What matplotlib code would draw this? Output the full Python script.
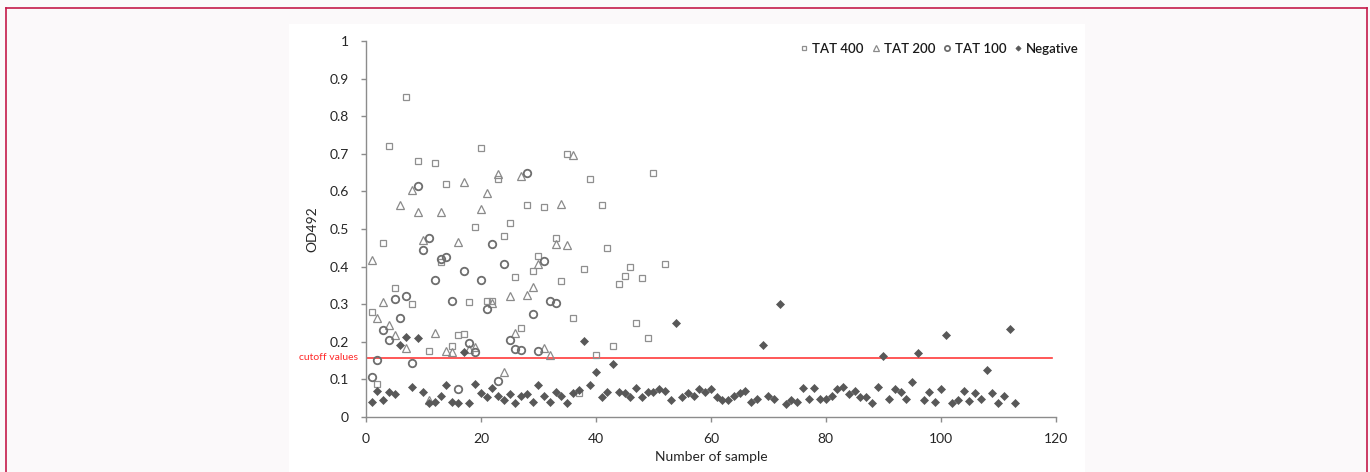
import matplotlib
matplotlib.use("Agg")
import matplotlib.pyplot as plt
from matplotlib.patches import Rectangle
from matplotlib.lines import Line2D
import numpy as np

plt.rcParams['font.family'] = ['Lato', 'DejaVu Sans']

# ---- data ----
tat400_x = [1, 2, 3, 4, 5, 7, 8, 9, 11, 12, 13, 14, 15, 16, 17, 18, 19, 20, 21, 22, 23, 24, 25, 26,
            27, 28, 29, 30, 31, 33, 34, 35, 36, 37, 38, 39, 40, 41, 42, 43, 44, 45, 46, 47, 48, 49, 50, 52]
tat400_y = [0.278, 0.088, 0.463, 0.720, 0.343, 0.850, 0.301, 0.680, 0.175, 0.675, 0.411, 0.620,
            0.188, 0.219, 0.221, 0.305, 0.505, 0.715, 0.308, 0.308, 0.632, 0.482, 0.516, 0.373,
            0.237, 0.563, 0.387, 0.428, 0.558, 0.476, 0.362, 0.700, 0.263, 0.063, 0.393, 0.632,
            0.166, 0.564, 0.449, 0.190, 0.355, 0.376, 0.399, 0.249, 0.371, 0.211, 0.648, 0.408]

tat200_x = list(range(1, 37))
tat200_y = [0.417, 0.262, 0.306, 0.245, 0.219, 0.563, 0.183, 0.605, 0.545, 0.470, 0.045, 0.224,
            0.545, 0.176, 0.174, 0.465, 0.625, 0.180, 0.187, 0.553, 0.597, 0.303, 0.645, 0.121,
            0.321, 0.224, 0.640, 0.325, 0.345, 0.406, 0.183, 0.166, 0.461, 0.566, 0.457, 0.697]

tat100_x = list(range(1, 34))
tat100_y = [0.107, 0.151, 0.231, 0.204, 0.315, 0.264, 0.323, 0.143, 0.615, 0.445, 0.477, 0.364,
            0.420, 0.425, 0.308, 0.075, 0.387, 0.196, 0.174, 0.364, 0.287, 0.460, 0.095, 0.408,
            0.204, 0.181, 0.178, 0.648, 0.275, 0.175, 0.416, 0.308, 0.302]

neg_x = list(range(1, 114))
neg_y = [0.041, 0.069, 0.045, 0.067, 0.060, 0.192, 0.214, 0.081, 0.211, 0.067,
         0.036, 0.041, 0.057, 0.084, 0.041, 0.037, 0.172, 0.037, 0.087, 0.065,
         0.052, 0.076, 0.057, 0.044, 0.060, 0.037, 0.057, 0.060, 0.041, 0.084,
         0.057, 0.041, 0.066, 0.057, 0.037, 0.063, 0.072, 0.202, 0.086, 0.119,
         0.054, 0.066, 0.142, 0.066, 0.063, 0.052, 0.077, 0.054, 0.066, 0.066,
         0.075, 0.069, 0.045, 0.249, 0.054, 0.063, 0.057, 0.075, 0.066, 0.075,
         0.054, 0.045, 0.045, 0.057, 0.063, 0.069, 0.039, 0.048, 0.192, 0.057,
         0.048, 0.301, 0.034, 0.045, 0.039, 0.078, 0.048, 0.078, 0.048, 0.048,
         0.057, 0.075, 0.081, 0.061, 0.069, 0.054, 0.054, 0.036, 0.081, 0.161,
         0.048, 0.075, 0.066, 0.048, 0.092, 0.170, 0.045, 0.066, 0.039, 0.075,
         0.219, 0.036, 0.045, 0.069, 0.043, 0.063, 0.048, 0.125, 0.063, 0.036,
         0.057, 0.234, 0.036]

cutoff = 0.158
series_labels = ["TAT 400", "TAT 200", "TAT 100", "Negative"]
x_ticks = [0, 20, 40, 60, 80, 100, 120]
y_ticks = [0, 0.1, 0.2, 0.3, 0.4, 0.5, 0.6, 0.7, 0.8, 0.9, 1]
y_ticklabels = ["0", "0.1", "0.2", "0.3", "0.4", "0.5", "0.6", "0.7", "0.8", "0.9", "1"]

# ---- figure ----
W, H = 1370, 472
fig = plt.figure(figsize=(W / 100, H / 100), dpi=100)
fig.patch.set_facecolor('#fbf9fa')

# white panel
fig.patches.append(Rectangle((289 / W, 0), (1085 - 289) / W, (H - 24) / H,
                             transform=fig.transFigure, facecolor='white',
                             edgecolor='none', zorder=-5))
# border lines
bc = '#c41a4a'
fig.add_artist(Line2D([6 / W, 1367 / W], [(H - 8) / H, (H - 8) / H], color=bc, lw=1.2,
                      transform=fig.transFigure, zorder=-4))
fig.add_artist(Line2D([6 / W, 6 / W], [0, (H - 8) / H], color=bc, lw=1.2,
                      transform=fig.transFigure, zorder=-4))
fig.add_artist(Line2D([1367 / W, 1367 / W], [0, (H - 8) / H], color=bc, lw=1.2,
                      transform=fig.transFigure, zorder=-4))

ax = fig.add_axes([366 / W, 55 / H, (1055.7 - 366) / W, (417 - 41) / H])
ax.set_facecolor('none')
ax.set_zorder(2)

ax.plot(tat400_x, tat400_y, linestyle='none', marker='s', markersize=4.2,
        markerfacecolor='none', markeredgecolor='#8f8f8f', markeredgewidth=0.9,
        label=series_labels[0])
ax.plot(tat200_x, tat200_y, linestyle='none', marker='^', markersize=5.2,
        markerfacecolor='none', markeredgecolor='#8a8a8a', markeredgewidth=0.9,
        label=series_labels[1])
ax.plot(tat100_x, tat100_y, linestyle='none', marker='o', markersize=5.4,
        markerfacecolor='none', markeredgecolor='#6e6e6e', markeredgewidth=1.3,
        label=series_labels[2])
ax.plot(neg_x, neg_y, linestyle='none', marker='D', markersize=3.8,
        markerfacecolor='#585858', markeredgecolor='#585858', markeredgewidth=0.5,
        label=series_labels[3])

ax.plot([0, 119.3], [cutoff, cutoff], color='#ff3b3b', lw=1.2, zorder=1)
ax.text(-1.4, cutoff, "cutoff values", color='#ff2a2a', fontsize=7.5,
        ha='right', va='center')

ax.set_xlim(0, 120)
ax.set_ylim(0, 1)
ax.set_xticks(x_ticks)
ax.set_yticks(y_ticks)
ax.set_yticklabels(y_ticklabels)
for s in ['top', 'right']:
    ax.spines[s].set_visible(False)
for s in ['left', 'bottom']:
    ax.spines[s].set_color('#8c8c8c')
    ax.spines[s].set_linewidth(1.0)
ax.tick_params(axis='both', direction='out', length=3.5, width=1.0, color='#8c8c8c',
               labelsize=10, labelcolor='#262626')
ax.tick_params(axis='y', pad=9)
ax.tick_params(axis='x', pad=8)
ax.set_xlabel("Number of sample", fontsize=10, color='#262626', labelpad=4)
ax.set_ylabel("OD492", fontsize=10, color='#262626', labelpad=8)

leg = fig.legend(loc='upper right', bbox_to_anchor=(1079 / W, (H - 43) / H), ncol=4,
                 frameon=False, fontsize=9.5, handlelength=0.6, handletextpad=0.3,
                 columnspacing=0.6, markerscale=0.7, borderpad=0, borderaxespad=0)
for t in leg.get_texts():
    t.set_color('#1a1a1a')
    t.set_fontweight('semibold')

fig.savefig('out.png', dpi=100, facecolor=fig.get_facecolor())
